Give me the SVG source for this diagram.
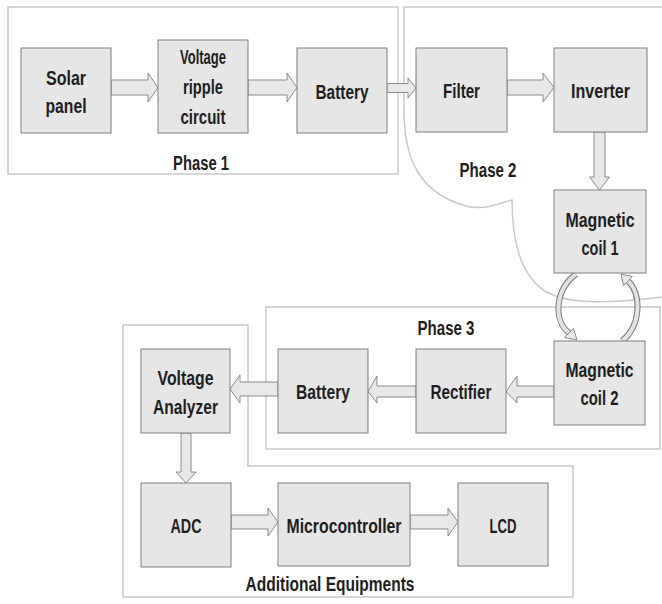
<svg xmlns="http://www.w3.org/2000/svg" width="662" height="604" viewBox="0 0 662 604">
<style>
.grp{fill:none;stroke:#c9c9c9;stroke-width:1.5}
.box{fill:#e6e6e6;stroke:#7f7f7f;stroke-width:1}
.arr{fill:#e8e8e8;stroke:#808080;stroke-width:0.9;stroke-linejoin:miter}
.t{font-family:"Liberation Sans",Arial,sans-serif;font-weight:bold;font-size:20px;fill:#1e1e1e;text-anchor:middle}
.arcO{fill:none;stroke:#7a7a7a;stroke-width:6;stroke-linecap:butt}
.arcI{fill:none;stroke:#e2e2e2;stroke-width:4;stroke-linecap:butt}
</style>
<rect width="662" height="604" fill="#ffffff"/>
<g id="groups">
  <rect id="phase1" class="grp" x="8" y="7" width="390" height="167"/>
  <path id="phase2" class="grp" d="M662,7 L404,7 L404,110 C404,160 420,195 470,207 C490,209 500,203 512,200 C512,240 520,275 545,291 C565,303 600,305 662,297"/>
  <rect id="phase3" class="grp" x="266" y="307" width="394" height="142"/>
  <path id="additional" class="grp" d="M248,325 L123,325 L123,597 L573,597 L573,466 L248,466 Z"/>
  <text class="t" x="201" y="170" textLength="56" lengthAdjust="spacingAndGlyphs">Phase 1</text>
  <text class="t" x="488" y="177" textLength="57" lengthAdjust="spacingAndGlyphs">Phase 2</text>
  <text class="t" x="446" y="335" textLength="57" lengthAdjust="spacingAndGlyphs">Phase 3</text>
  <text class="t" x="330" y="591" textLength="169" lengthAdjust="spacingAndGlyphs">Additional Equipments</text>
</g>
<g id="connectors">
  <polygon class="arr" points="111,80 148,80 148,73 158,87.5 148,102 148,95 111,95"/>
  <polygon class="arr" points="248,80 287,80 287,73 297,87.5 287,102 287,95 248,95"/>
  <polygon class="arr" points="387,83.5 408,83.5 408,78 416,88 408,98 408,92.5 387,92.5"/>
  <polygon class="arr" points="507,80 543,80 543,73 554,87.5 543,102 543,95 507,95"/>
  <polygon class="arr" points="594,132 605,132 605,177 609.5,177 599.5,190 589.5,177 594,177"/>
  <polygon class="arr" points="554,386 517,386 517,376 506,391.5 517,403 517,397 554,397"/>
  <polygon class="arr" points="416,386 377,386 377,376 368,391.5 377,403 377,397 416,397"/>
  <polygon class="arr" points="278,382 240,382 240,375 230,389 240,403 240,396 278,396"/>
  <polygon class="arr" points="181,433 191,433 191,472 196,472 186,483 176,472 181,472"/>
  <polygon class="arr" points="231,515 268,515 268,508 278,522 268,536 268,529 231,529"/>
  <polygon class="arr" points="410,515 448,515 448,508 458,522 448,536 448,529 410,529"/>
  <path class="arcO" d="M576,274 C555,290 553,320 569,333"/>
  <path class="arcI" d="M576,274 C555,290 553,320 569,333"/>
  <polygon class="arr" points="564.5,337.5 577,340 573.5,328.5"/>
  <path class="arcO" d="M622,341 C641,326 642,294 628,281"/>
  <path class="arcI" d="M622,341 C641,326 642,294 628,281"/>
  <polygon class="arr" points="632.5,276.5 621,274 623.5,285.5"/>
</g>
<g id="solar_panel"><rect class="box" x="21" y="48" width="90" height="85"/>
  <text class="t" x="66" y="85" textLength="40" lengthAdjust="spacingAndGlyphs">Solar</text>
  <text class="t" x="66" y="113" textLength="41" lengthAdjust="spacingAndGlyphs">panel</text></g>
<g id="voltage_ripple"><rect class="box" x="158" y="40" width="90" height="93"/>
  <text class="t" x="203" y="64" textLength="46" lengthAdjust="spacingAndGlyphs">Voltage</text>
  <text class="t" x="203" y="94" textLength="40" lengthAdjust="spacingAndGlyphs">ripple</text>
  <text class="t" x="203" y="124" textLength="45" lengthAdjust="spacingAndGlyphs">circuit</text></g>
<g id="battery1"><rect class="box" x="297" y="48" width="90" height="85"/>
  <text class="t" x="342" y="99" textLength="53" lengthAdjust="spacingAndGlyphs">Battery</text></g>
<g id="filter"><rect class="box" x="416" y="48" width="91" height="84"/>
  <text class="t" x="461.5" y="98" textLength="37" lengthAdjust="spacingAndGlyphs">Filter</text></g>
<g id="inverter"><rect class="box" x="554" y="48" width="93" height="84"/>
  <text class="t" x="600.5" y="98" textLength="59" lengthAdjust="spacingAndGlyphs">Inverter</text></g>
<g id="coil1"><rect class="box" x="554" y="190" width="92" height="83"/>
  <text class="t" x="600" y="227" textLength="69" lengthAdjust="spacingAndGlyphs">Magnetic</text>
  <text class="t" x="600" y="255" textLength="37" lengthAdjust="spacingAndGlyphs">coil 1</text></g>
<g id="coil2"><rect class="box" x="554" y="341" width="91" height="84"/>
  <text class="t" x="599.5" y="377" textLength="68" lengthAdjust="spacingAndGlyphs">Magnetic</text>
  <text class="t" x="599.5" y="405" textLength="38" lengthAdjust="spacingAndGlyphs">coil 2</text></g>
<g id="rectifier"><rect class="box" x="416" y="349" width="90" height="84"/>
  <text class="t" x="461" y="399" textLength="61" lengthAdjust="spacingAndGlyphs">Rectifier</text></g>
<g id="battery2"><rect class="box" x="278" y="349" width="90" height="84"/>
  <text class="t" x="323" y="399" textLength="54" lengthAdjust="spacingAndGlyphs">Battery</text></g>
<g id="voltage_analyzer"><rect class="box" x="141" y="349" width="89" height="84"/>
  <text class="t" x="185.5" y="385" textLength="56" lengthAdjust="spacingAndGlyphs">Voltage</text>
  <text class="t" x="185.5" y="414" textLength="65" lengthAdjust="spacingAndGlyphs">Analyzer</text></g>
<g id="adc"><rect class="box" x="141" y="483" width="90" height="84"/>
  <text class="t" x="186" y="533" textLength="31" lengthAdjust="spacingAndGlyphs">ADC</text></g>
<g id="microcontroller"><rect class="box" x="278" y="483" width="132" height="83"/>
  <text class="t" x="344" y="533" textLength="115" lengthAdjust="spacingAndGlyphs">Microcontroller</text></g>
<g id="lcd"><rect class="box" x="458" y="483" width="90" height="83"/>
  <text class="t" x="503" y="533" textLength="27" lengthAdjust="spacingAndGlyphs">LCD</text></g>
</svg>
